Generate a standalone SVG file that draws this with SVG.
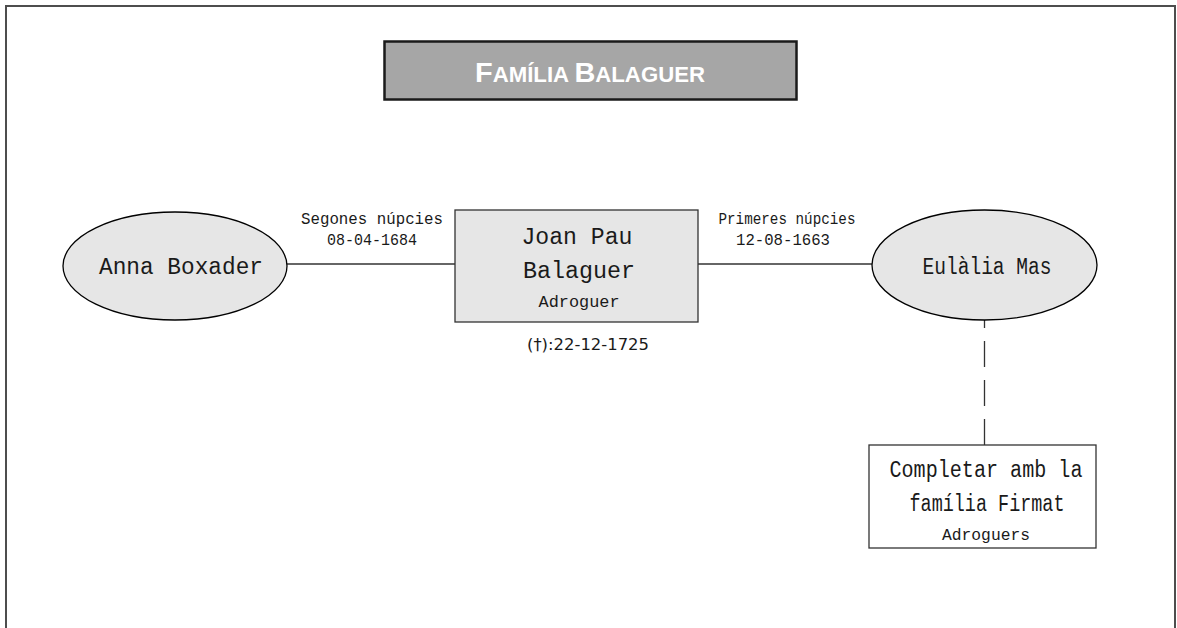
<svg xmlns="http://www.w3.org/2000/svg" width="1177" height="628" viewBox="0 0 1177 628">
<style>
.frame{fill:#ffffff;stroke:#4d4d4d;stroke-width:2}
.ell{fill:#e6e6e6;stroke:#000;stroke-width:1.3}
.box{fill:#e6e6e6;stroke:#333;stroke-width:1.3}
.wbox{fill:#ffffff;stroke:#333;stroke-width:1.3}
.conn{stroke:#333;stroke-width:1.3;fill:none}
.mono{font-family:"Liberation Mono","Courier New",monospace;fill:#1a1a1a;text-anchor:middle}
.big{font-size:23px}
.mid{font-size:17px}
.sm{font-size:16px}
.sans{font-family:"DejaVu Sans","Liberation Sans",sans-serif;font-size:16px;fill:#1a1a1a;text-anchor:middle}
.title{font-family:"Liberation Sans",Arial,sans-serif;font-weight:bold;fill:#ffffff;text-anchor:middle}
</style>
<rect class="frame" x="6" y="6" width="1169" height="700"/>
<g id="title">
<rect x="384.5" y="41.5" width="412" height="58" fill="#a6a6a6" stroke="#1a1a1a" stroke-width="2.5"/>
<text class="title" x="590" y="82" textLength="230" lengthAdjust="spacingAndGlyphs"><tspan font-size="28">F</tspan><tspan font-size="21.5">AMÍLIA </tspan><tspan font-size="28">B</tspan><tspan font-size="21.5">ALAGUER</tspan></text>
</g>
<g id="connectors">
<line class="conn" x1="287" y1="264" x2="455" y2="264"/>
<line class="conn" x1="698" y1="264" x2="872" y2="264"/>
<line class="conn" x1="984.5" y1="320" x2="984.5" y2="445" stroke-dasharray="26 13" stroke-dashoffset="18"/>
<text class="mono mid" x="372" y="224" textLength="142" lengthAdjust="spacingAndGlyphs">Segones núpcies</text>
<text class="mono mid" x="372" y="245" textLength="90" lengthAdjust="spacingAndGlyphs">08-04-1684</text>
<text class="mono mid" x="787" y="224" textLength="137" lengthAdjust="spacingAndGlyphs">Primeres núpcies</text>
<text class="mono mid" x="783" y="245" textLength="94" lengthAdjust="spacingAndGlyphs">12-08-1663</text>
</g>
<g id="anna">
<ellipse class="ell" cx="175" cy="266" rx="112" ry="54"/>
<text class="mono big" x="181" y="274" textLength="164" lengthAdjust="spacingAndGlyphs">Anna Boxader</text>
</g>
<g id="joan">
<rect class="box" x="455" y="210" width="243" height="112"/>
<text class="mono big" x="577" y="244" textLength="111" lengthAdjust="spacingAndGlyphs">Joan Pau</text>
<text class="mono big" x="579" y="278" textLength="112" lengthAdjust="spacingAndGlyphs">Balaguer</text>
<text class="mono sm" x="579" y="307" textLength="81" lengthAdjust="spacingAndGlyphs">Adroguer</text>
<text class="sans" x="588" y="350" textLength="122" lengthAdjust="spacingAndGlyphs">(†):22-12-1725</text>
</g>
<g id="eulalia">
<ellipse class="ell" cx="984.5" cy="265" rx="112.5" ry="55"/>
<text class="mono big" x="987" y="274" textLength="129" lengthAdjust="spacingAndGlyphs">Eulàlia Mas</text>
</g>
<g id="completar">
<rect class="wbox" x="869" y="445" width="227" height="103"/>
<text class="mono big" x="986" y="477" textLength="193" lengthAdjust="spacingAndGlyphs">Completar amb la</text>
<text class="mono big" x="987" y="511" textLength="155" lengthAdjust="spacingAndGlyphs">família Firmat</text>
<text class="mono sm" x="986" y="540" textLength="88" lengthAdjust="spacingAndGlyphs">Adroguers</text>
</g>
</svg>
